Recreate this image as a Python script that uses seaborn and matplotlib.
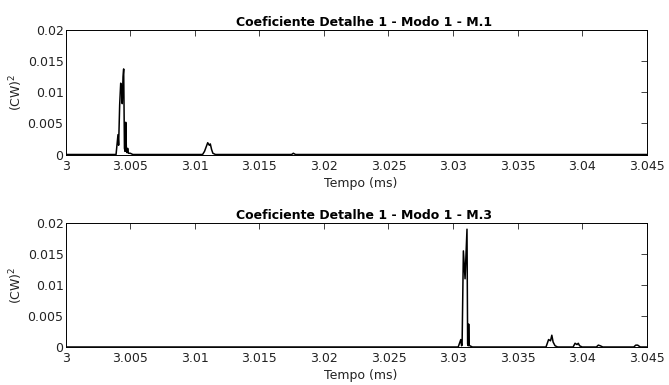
import matplotlib
matplotlib.use("Agg")
import matplotlib.pyplot as plt
import seaborn as sns
import pandas as pd
from matplotlib.ticker import FuncFormatter

# ---- data ----
t1 = [3.0, 3.0039, 3.00405, 3.0041, 3.00418, 3.00426, 3.00432, 3.00438, 3.00444,
      3.00449, 3.00455, 3.0046, 3.00465, 3.0047, 3.00475, 3.0048, 3.00486, 3.0050,
      3.0052, 3.0106, 3.01075, 3.0110, 3.01112, 3.0112, 3.0113, 3.0114, 3.0116,
      3.0175, 3.01763, 3.0178, 3.045]
v1 = [0, 0, 0.0032, 0.0015, 0.0080, 0.0115, 0.0110, 0.0082, 0.0125,
      0.0138, 0.0010, 0.0005, 0.0052, 0.0008, 0.0003, 0.0010, 0.0002, 0.0002,
      0, 0, 0.0005, 0.0019, 0.0015, 0.0017, 0.0008, 0.0002, 0,
      0, 0.0002, 0, 0]

t2 = [3.0, 3.0304, 3.0306, 3.03066, 3.0307, 3.0308, 3.03093, 3.03108, 3.03113,
      3.03118, 3.03121, 3.03125, 3.0313, 3.0315, 3.0372, 3.0374, 3.03755, 3.03765,
      3.03775, 3.0379, 3.0381, 3.0393, 3.03945, 3.0396, 3.0397, 3.0398, 3.0400,
      3.0411, 3.04125, 3.04140, 3.0416, 3.0440, 3.04415, 3.0443, 3.0445, 3.045]
v2 = [0, 0, 0.0012, 0.0002, 0.0003, 0.0155, 0.011, 0.019, 0.0005,
      0.0002, 0.0037, 0.0003, 0.0002, 0, 0, 0.0012, 0.0010, 0.0019,
      0.0008, 0.0002, 0, 0, 0.0006, 0.0004, 0.0006, 0.0002, 0,
      0, 0.0003, 0.0002, 0, 0, 0.0003, 0.0003, 0, 0]

titles = ["Coeficiente Detalhe 1 - Modo 1 - M.1",
          "Coeficiente Detalhe 1 - Modo 1 - M.3"]
xlabel = "Tempo (ms)"
ylabel = "(CW)$^2$"
xticks = [3, 3.005, 3.01, 3.015, 3.02, 3.025, 3.03, 3.035, 3.04, 3.045]
yticks = [0, 0.005, 0.01, 0.015, 0.02]

sns.set_theme(style="white")
plt.rcParams['font.family'] = ['DejaVu Sans']

fig = plt.figure(figsize=(6.69, 3.85), dpi=100)
left, width = 0.0982, 0.8685
ax1 = fig.add_axes([left, 0.5987, width, 0.3221])
ax2 = fig.add_axes([left, 0.0987, width, 0.3221])

fmt = FuncFormatter(lambda v, p: "%g" % round(v, 6))
txt = "#222222"
for ax, t, v, title in [(ax1, t1, v1, titles[0]), (ax2, t2, v2, titles[1])]:
    df = pd.DataFrame({"t": t, "v": v})
    sns.lineplot(data=df, x="t", y="v", ax=ax, color="black", linewidth=1.1,
                 sort=False, estimator=None)
    ax.set_xlim(3.0, 3.045)
    ax.set_ylim(0, 0.02)
    ax.set_xticks(xticks)
    ax.set_yticks(yticks)
    ax.xaxis.set_major_formatter(fmt)
    ax.yaxis.set_major_formatter(fmt)
    ax.tick_params(direction="in", length=4, width=0.6, top=True, right=True,
                   labelsize=9, colors=txt, labelcolor=txt)
    ax.tick_params(axis="x", pad=3.6)
    ax.tick_params(axis="y", pad=1.5)
    ax.set_title(title, fontsize=9, fontweight="bold", pad=3, color="black")
    ax.title.set_position((0.513, 1.0))
    ax.set_xlabel(xlabel, fontsize=9, labelpad=3, color=txt)
    ax.xaxis.label.set_position((0.507, 0))
    ax.set_ylabel(ylabel, fontsize=9, labelpad=2, color=txt)
    for s in ax.spines.values():
        s.set_color("black")
        s.set_linewidth(0.7)
    ax.grid(False)

fig.savefig("out.png", dpi=100)
